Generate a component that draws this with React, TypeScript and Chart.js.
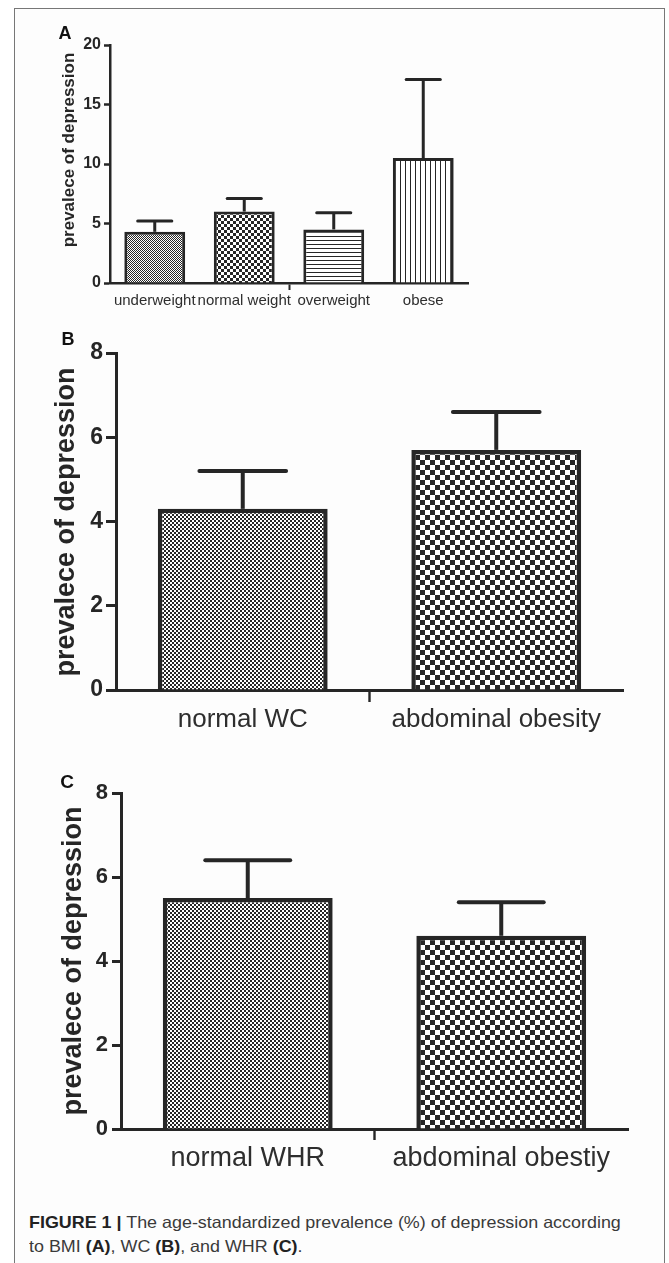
import React, { useEffect, useRef } from "react";
import { Chart, registerables } from "chart.js";

Chart.register(...registerables);

const FONT = '"Liberation Sans", Arial, Helvetica, sans-serif';
const INK = "#262626";
const LABEL_INK = "#2e2e2e";

// ---------- Data ----------
// Panel A: BMI
const bmiCategories = ["underweight", "normal weight", "overweight", "obese"];
const bmiValues = [4.3, 6.0, 4.5, 10.5];
const bmiErrors = [0.9, 1.1, 1.4, 6.6];
const bmiYMax = 20;
const bmiYStep = 5;

// Panel B: WC
const wcCategories = ["normal WC", "abdominal obesity"];
const wcValues = [4.3, 5.7];
const wcErrors = [0.9, 0.9];
const wcYMax = 8;
const wcYStep = 2;

// Panel C: WHR
const whrCategories = ["normal WHR", "abdominal obestiy"];
const whrValues = [5.5, 4.6];
const whrErrors = [0.9, 0.8];
const whrYMax = 8;
const whrYStep = 2;

const yTitle = "prevalece of depression";

// ---------- Patterns ----------
function checker(cell: number): CanvasPattern {
  const c = document.createElement("canvas");
  c.width = c.height = cell * 2;
  const g = c.getContext("2d")!;
  g.fillStyle = "#ffffff";
  g.fillRect(0, 0, cell * 2, cell * 2);
  g.fillStyle = INK;
  g.fillRect(0, 0, cell, cell);
  g.fillRect(cell, cell, cell, cell);
  return g.createPattern(c, "repeat")!;
}
function hLines(period: number): CanvasPattern {
  const c = document.createElement("canvas");
  c.width = 4;
  c.height = period;
  const g = c.getContext("2d")!;
  g.fillStyle = "#ffffff";
  g.fillRect(0, 0, 4, period);
  g.fillStyle = INK;
  g.fillRect(0, 0, 4, 1);
  return g.createPattern(c, "repeat")!;
}
function vLines(period: number): CanvasPattern {
  const c = document.createElement("canvas");
  c.width = period;
  c.height = 4;
  const g = c.getContext("2d")!;
  g.fillStyle = "#ffffff";
  g.fillRect(0, 0, period, 4);
  g.fillStyle = INK;
  g.fillRect(0, 0, 1, 4);
  return g.createPattern(c, "repeat")!;
}

// ---------- Error bar plugin ----------
const errorBarPlugin = {
  id: "errorBars",
  afterDatasetsDraw(chart: any, _args: any, opts: any) {
    const { ctx } = chart;
    const yScale = chart.scales.y;
    const ds = chart.data.datasets[0];
    const meta = chart.getDatasetMeta(0);
    const errors: number[] = opts.errors || [];
    ctx.save();
    ctx.strokeStyle = opts.color || INK;
    ctx.lineWidth = opts.width || 3;
    ctx.lineCap = "butt";
    meta.data.forEach((bar: any, i: number) => {
      const v = ds.data[i] as number;
      const e = errors[i];
      const yBase = yScale.getPixelForValue(v);
      const yTop = yScale.getPixelForValue(v + e);
      const half = (bar.width * (opts.capRatio || 0.5)) / 2;
      ctx.beginPath();
      ctx.moveTo(bar.x, yBase);
      ctx.lineTo(bar.x, yTop);
      ctx.stroke();
      ctx.save();
      ctx.lineCap = "round";
      ctx.beginPath();
      ctx.moveTo(bar.x - half, yTop);
      ctx.lineTo(bar.x + half, yTop);
      ctx.stroke();
      ctx.restore();
    });
    ctx.restore();
  },
};

type Spec = {
  left: number;
  top: number;
  width: number;
  height: number;
  padTop: number;
  padRight: number;
  yAxisWidth: number;
  xAxisHeight: number;
  labels: string[];
  values: number[];
  errors: number[];
  fills: () => CanvasPattern[];
  yMax: number;
  yStep: number;
  tickFont: number;
  labelFont: number;
  yTickLen: number;
  yTickPad: number;
  xTickLen: number;
  xTickPad: number;
  barPct: number;
  lineW: number;
  borderW: number;
  errW: number;
  capRatio: number;
};

function BarPanel({ spec }: { spec: Spec }) {
  const ref = useRef<HTMLCanvasElement>(null);
  useEffect(() => {
    const mid = spec.labels.length / 2;
    const chart = new Chart(ref.current!, {
      type: "bar",
      data: {
        labels: spec.labels,
        datasets: [
          {
            data: spec.values,
            backgroundColor: spec.fills(),
            borderColor: INK,
            borderWidth: spec.borderW,
            barPercentage: spec.barPct,
            categoryPercentage: 1,
          },
        ],
      },
      options: {
        animation: false,
        responsive: false,
        layout: { padding: { top: spec.padTop, right: spec.padRight, left: 0, bottom: 0 } },
        plugins: {
          legend: { display: false },
          tooltip: { enabled: false },
          errorBars: { errors: spec.errors, width: spec.errW, capRatio: spec.capRatio, color: INK },
        } as any,
        scales: {
          x: {
            ticks: {
              color: LABEL_INK,
              font: { family: FONT, size: spec.labelFont },
              padding: spec.xTickPad,
              autoSkip: false,
              maxRotation: 0,
              minRotation: 0,
            },
            grid: {
              display: true,
              drawOnChartArea: false,
              drawTicks: true,
              tickLength: spec.xTickLen,
              tickWidth: spec.lineW * 0.8,
              color: "rgba(0,0,0,0)",
              tickColor: (ctx: any) => (ctx.index === mid ? INK : "rgba(0,0,0,0)"),
            },
            border: { display: true, color: INK, width: spec.lineW },
            afterFit: (s: any) => {
              s.height = spec.xAxisHeight;
            },
          },
          y: {
            min: 0,
            max: spec.yMax,
            ticks: {
              stepSize: spec.yStep,
              color: INK,
              font: { family: FONT, size: spec.tickFont, weight: "bold" },
              padding: spec.yTickPad,
            },
            grid: {
              display: true,
              drawOnChartArea: false,
              drawTicks: true,
              tickLength: spec.yTickLen,
              tickWidth: spec.lineW,
              color: INK,
              tickColor: INK,
            },
            border: { display: true, color: INK, width: spec.lineW },
            afterFit: (s: any) => {
              s.width = spec.yAxisWidth;
            },
          },
        },
      } as any,
      plugins: [errorBarPlugin as any],
    });
    return () => chart.destroy();
  }, []);
  return (
    <canvas
      ref={ref}
      width={spec.width}
      height={spec.height}
      style={{ position: "absolute", left: spec.left, top: spec.top, width: spec.width, height: spec.height }}
    />
  );
}

const panelA: Spec = {
  left: 20, top: 20, width: 460, height: 293, padTop: 25, padRight: 12,
  yAxisWidth: 90, xAxisHeight: 30,
  labels: bmiCategories, values: bmiValues, errors: bmiErrors,
  fills: () => [checker(1), checker(3), hLines(4), vLines(5)],
  yMax: bmiYMax, yStep: bmiYStep, tickFont: 16, labelFont: 15,
  yTickLen: 6, yTickPad: 3, xTickLen: 7, xTickPad: 2,
  barPct: 0.68, lineW: 2.5, borderW: 3, errW: 3, capRatio: 0.56,
};

const panelB: Spec = {
  left: 20, top: 330, width: 620, height: 410, padTop: 23, padRight: 17,
  yAxisWidth: 96, xAxisHeight: 50,
  labels: wcCategories, values: wcValues, errors: wcErrors,
  fills: () => [checker(2), checker(5)],
  yMax: wcYMax, yStep: wcYStep, tickFont: 23, labelFont: 26,
  yTickLen: 10, yTickPad: 3, xTickLen: 12, xTickPad: 2,
  barPct: 0.67, lineW: 3, borderW: 4.5, errW: 4, capRatio: 0.51,
};

const panelC: Spec = {
  left: 20, top: 770, width: 620, height: 409, padTop: 23, padRight: 12,
  yAxisWidth: 101, xAxisHeight: 50,
  labels: whrCategories, values: whrValues, errors: whrErrors,
  fills: () => [checker(2), checker(5)],
  yMax: whrYMax, yStep: whrYStep, tickFont: 22, labelFont: 27,
  yTickLen: 9, yTickPad: 4, xTickLen: 11, xTickPad: 2,
  barPct: 0.67, lineW: 3, borderW: 4.5, errW: 4, capRatio: 0.5,
};

function VTitle({ cx, cy, size }: { cx: number; cy: number; size: number }) {
  return (
    <div
      style={{
        position: "absolute",
        left: cx,
        top: cy,
        transform: "translate(-50%, -50%) rotate(-90deg)",
        whiteSpace: "nowrap",
        fontFamily: FONT,
        fontWeight: "bold",
        fontSize: size,
        lineHeight: 1,
        color: INK,
      }}
    >
      {yTitle}
    </div>
  );
}

function Letter({ cx, cy, size, text }: { cx: number; cy: number; size: number; text: string }) {
  return (
    <div
      style={{
        position: "absolute",
        left: cx,
        top: cy,
        transform: "translate(-50%, -50%)",
        fontFamily: FONT,
        fontWeight: "bold",
        fontSize: size,
        lineHeight: 1,
        color: "#111",
      }}
    >
      {text}
    </div>
  );
}

export default function App() {
  const capStyle: React.CSSProperties = {
    position: "absolute",
    left: 29,
    whiteSpace: "nowrap",
    fontFamily: FONT,
    fontSize: 16.5,
    lineHeight: 1,
    color: "#3a3a3a",
    transform: "scaleX(1.085)",
    transformOrigin: "0 0",
  };
  return (
    <div style={{ position: "absolute", left: 0, top: 0, width: 669, height: 1263, overflow: "hidden", background: "#fff" }}>
      <div
        style={{
          position: "absolute",
          left: 14,
          top: 8,
          width: 651,
          height: 1300,
          borderLeft: "1px solid #777",
          borderRight: "1px solid #777",
          borderTop: "1px solid #777",
          boxSizing: "border-box",
          background: "#fdfdfd",
        }}
      />
      <BarPanel spec={panelA} />
      <BarPanel spec={panelB} />
      <BarPanel spec={panelC} />
      <VTitle cx={68} cy={150} size={17} />
      <VTitle cx={65} cy={522} size={27} />
      <VTitle cx={72} cy={961} size={27} />
      <Letter cx={65} cy={33} size={18} text="A" />
      <Letter cx={68} cy={339} size={18} text="B" />
      <Letter cx={67} cy={781} size={19} text="C" />
      <div style={{ ...capStyle, top: 1214 }}>
        <b style={{ color: "#222" }}>FIGURE 1 |</b> The age-standardized prevalence (%) of depression according
      </div>
      <div style={{ ...capStyle, top: 1238 }}>
        to BMI <b style={{ color: "#222" }}>(A)</b>, WC <b style={{ color: "#222" }}>(B)</b>, and WHR{" "}
        <b style={{ color: "#222" }}>(C)</b>.
      </div>
    </div>
  );
}
